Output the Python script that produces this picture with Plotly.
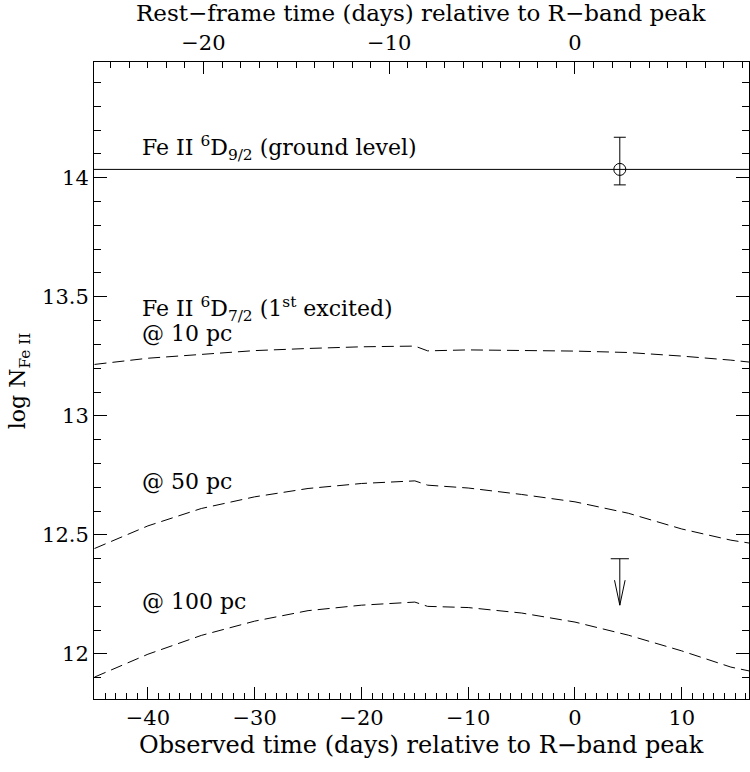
import plotly.graph_objects as go

# Observed epochs (days relative to R-band peak) at which the model columns are tabulated
epoch_obs = [-45, -40, -35, -30, -25, -20, -15.0, -13.8, -10, -5, 0, 5, 10, 14.6, 16.3]

# log N(Fe II) in the first excited level for three cloud distances
logN_10pc = [13.216, 13.242, 13.258, 13.274, 13.283, 13.290, 13.293, 13.273,
             13.277, 13.276, 13.272, 13.266, 13.251, 13.234, 13.226]
logN_50pc = [12.443, 12.538, 12.611, 12.660, 12.695, 12.716, 12.727, 12.709,
             12.697, 12.670, 12.639, 12.591, 12.525, 12.478, 12.466]
logN_100pc = [11.903, 11.999, 12.078, 12.138, 12.182, 12.205, 12.218, 12.200,
              12.195, 12.172, 12.134, 12.079, 12.013, 11.945, 11.929]

# Ground-level column (constant)
logN_ground = 14.035

# Measurements at the spectrum epoch
t_spec = 4.2
ground_meas = 14.035
ground_err_plus = 0.135
ground_err_minus = 0.065
excited_limit = 12.40
excited_arrow_tip = 12.205

one_plus_z = 1.74
x_range = [-45.05, 16.3]
y_range = [11.811, 14.486]

FONT = "DejaVu Serif"
BLACK = "#000000"

fig = go.Figure()

dash = "12px,6px"
for vals in (logN_10pc, logN_50pc, logN_100pc):
    fig.add_trace(go.Scatter(x=epoch_obs, y=vals, mode="lines",
                             line=dict(color=BLACK, width=1, dash=dash),
                             hoverinfo="skip", showlegend=False))

fig.add_trace(go.Scatter(x=[x_range[0], x_range[1]], y=[logN_ground, logN_ground],
                         mode="lines", line=dict(color=BLACK, width=1),
                         hoverinfo="skip", showlegend=False))

# Ground-level detection with asymmetric error bar
fig.add_trace(go.Scatter(
    x=[t_spec], y=[ground_meas], mode="markers",
    marker=dict(symbol="circle-open", size=12, color=BLACK, line=dict(width=1)),
    error_y=dict(type="data", symmetric=False, array=[ground_err_plus],
                 arrayminus=[ground_err_minus], color=BLACK, thickness=1, width=6),
    hoverinfo="skip", showlegend=False))

# Upper limit on the excited level: bar + downward open arrow
px_per_day = 654.7 / (x_range[1] - x_range[0])
px_per_dex = 637.0 / (y_range[1] - y_range[0])
head_dx = 5.3 / px_per_day
head_dy = 25.0 / px_per_dex
fig.add_trace(go.Scatter(
    x=[t_spec, t_spec, None, t_spec - head_dx, t_spec, t_spec + head_dx],
    y=[excited_limit, excited_arrow_tip, None, excited_arrow_tip + head_dy,
       excited_arrow_tip, excited_arrow_tip + head_dy],
    mode="lines", line=dict(color=BLACK, width=1), hoverinfo="skip", showlegend=False))
fig.add_trace(go.Scatter(
    x=[t_spec], y=[excited_limit], mode="markers",
    marker=dict(symbol="line-ew-open", size=13, color=BLACK, line=dict(width=1, color=BLACK)),
    hoverinfo="skip", showlegend=False))

# Dummy trace to activate the rest-frame axis on top
fig.add_trace(go.Scatter(x=[x_range[0] / one_plus_z], y=[y_range[0]], xaxis="x2",
                         mode="markers", marker=dict(opacity=0), hoverinfo="skip",
                         showlegend=False))

tick_font = dict(family=FONT, size=21, color=BLACK)

fig.update_layout(
    width=750, height=772,
    margin=dict(l=94.3, r=1, t=62, b=73),
    paper_bgcolor="white", plot_bgcolor="white",
    showlegend=False,
    xaxis=dict(range=x_range, showgrid=False, zeroline=False,
               showline=True, linecolor=BLACK, linewidth=1, mirror=False,
               ticks="inside", ticklen=12, tickwidth=1, tickcolor=BLACK,
               tick0=0, dtick=10, tickfont=tick_font,
               minor=dict(ticks="inside", ticklen=6, tickwidth=1, tickcolor=BLACK,
                          dtick=1, showgrid=False)),
    xaxis2=dict(range=[x_range[0] / one_plus_z, x_range[1] / one_plus_z],
                overlaying="x", side="top", anchor="y",
                showgrid=False, zeroline=False,
                showline=True, linecolor=BLACK, linewidth=1,
                ticks="inside", ticklen=12, tickwidth=1, tickcolor=BLACK,
                tick0=0, dtick=10, tickfont=tick_font, ticklabelstandoff=3,
                minor=dict(ticks="inside", ticklen=6, tickwidth=1, tickcolor=BLACK,
                           dtick=1, showgrid=False)),
    yaxis=dict(range=y_range, showgrid=False, zeroline=False,
               showline=True, linecolor=BLACK, linewidth=1, mirror="ticks",
               ticks="inside", ticklen=13, tickwidth=1, tickcolor=BLACK,
               tick0=12, dtick=0.5, tickfont=tick_font,
               minor=dict(ticks="inside", ticklen=7, tickwidth=1, tickcolor=BLACK,
                          dtick=0.1, showgrid=False)),
)

label_font = dict(family=FONT, size=22, color=BLACK)
label_x = -40.7
labels = [
    ("Fe II <sup>6</sup>D<sub>9/2</sub> (ground level)", 14.125),
    ("Fe II <sup>6</sup>D<sub>7/2</sub> (1<sup>st</sup> excited)", 13.45),
    ("@ 10 pc", 13.345),
    ("@ 50 pc", 12.725),
    ("@ 100 pc", 12.222),
]
for txt, yv in labels:
    fig.add_annotation(x=label_x, y=yv, xref="x", yref="y", text=txt,
                       showarrow=False, xanchor="left", yanchor="middle",
                       font=label_font)

fig.add_annotation(x=0.5, y=(699 - 745) / 637.0, xref="paper", yref="paper",
                   text="Observed time (days) relative to R\u2212band peak",
                   showarrow=False, xanchor="center", yanchor="middle",
                   font=dict(family=FONT, size=24, color=BLACK))
fig.add_annotation(x=0.5, y=(699 - 13) / 637.0, xref="paper", yref="paper",
                   text="Rest\u2212frame time (days) relative to R\u2212band peak",
                   showarrow=False, xanchor="center", yanchor="middle",
                   font=dict(family=FONT, size=23, color=BLACK))
fig.add_annotation(x=(20 - 94.3) / 654.7, y=0.5, xref="paper", yref="paper",
                   text="log N<sub>Fe II</sub>", textangle=-90,
                   showarrow=False, xanchor="center", yanchor="middle", font=label_font)

fig.write_html("out.html")
